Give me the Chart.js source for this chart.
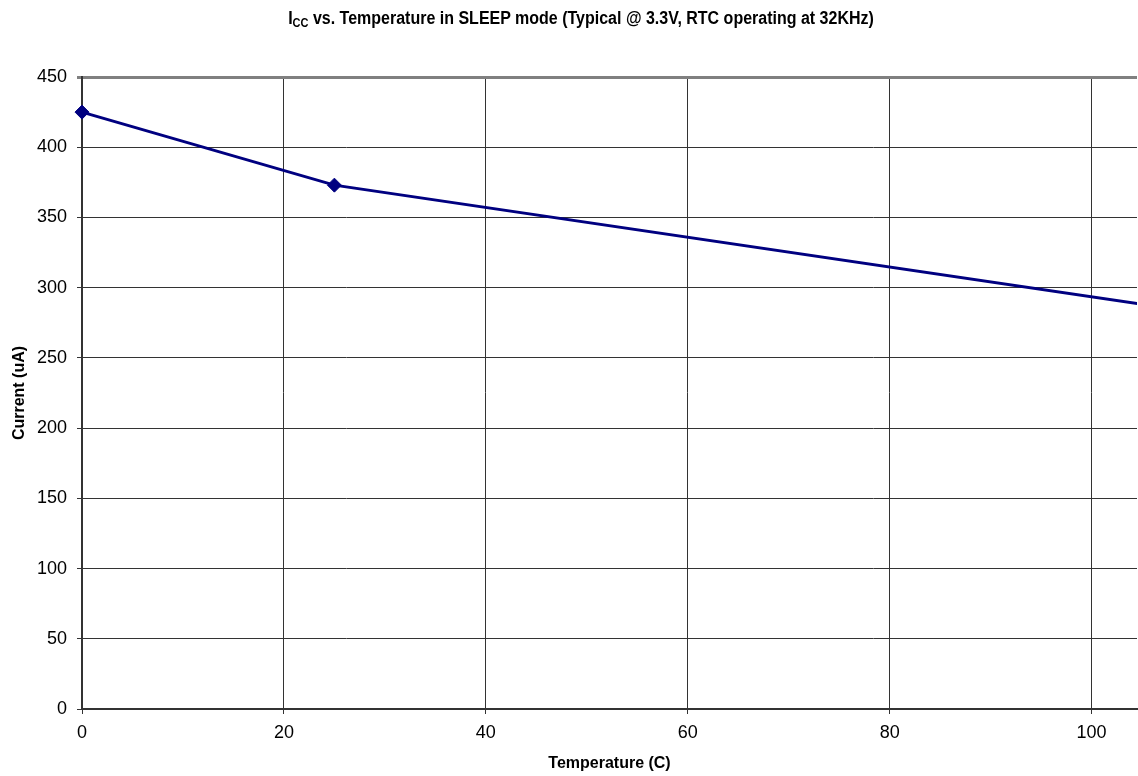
<!DOCTYPE html>
<html><head><meta charset="utf-8">
<script src="https://cdn.jsdelivr.net/npm/chart.js@4/dist/chart.umd.min.js"></script>
<style>
html,body{margin:0;padding:0;background:#fff;}
#wrap{position:relative;width:1138px;height:776px;overflow:hidden;}
#title{position:absolute;left:0;top:9px;width:1162px;text-align:center;font:bold 16px "Liberation Sans",Arial,sans-serif;color:#000;white-space:nowrap;}
#title span.t{display:inline-block;transform:scale(1.0,1.1);}
#title sub{font-size:11px;vertical-align:-3px;line-height:0;}
canvas{position:absolute;left:0;top:0;}
</style></head>
<body><div id="wrap"><canvas id="c" width="1145" height="776"></canvas><div id="title"><span class="t">I<sub>CC</sub> vs. Temperature in SLEEP mode (Typical @ 3.3V, RTC operating at 32KHz)</span></div></div>
<script>
const temperatures = [0, 25, 125];
const currents = [425, 373, 267];
const xTickValues = [0, 20, 40, 60, 80, 100];
const yTickValues = [0, 50, 100, 150, 200, 250, 300, 350, 400, 450];
const xAxisTitle = 'Temperature (C)';
const yAxisTitle = 'Current (uA)';

const points = temperatures.map((t, i) => ({x: t, y: currents[i]}));
const FONT = '"Liberation Sans", Arial, sans-serif';

new Chart(document.getElementById('c'), {
  type: 'line',
  data: {
    datasets: [{
      data: points,
      borderColor: '#000080',
      backgroundColor: '#000080',
      borderWidth: 3,
      pointStyle: 'rectRot',
      pointRadius: 7,
      pointBorderWidth: 1,
      pointBorderColor: '#000080',
      pointBackgroundColor: '#000080',
      tension: 0,
      fill: false,
      clip: {left: 12, top: 12, bottom: 12, right: 0}
    }]
  },
  options: {
    responsive: false,
    animation: false,
    devicePixelRatio: 1,
    layout: {padding: {top: 77, right: 0, bottom: 0, left: 0}},
    plugins: {legend: {display: false}, tooltip: {enabled: false}, title: {display: false}},
    scales: {
      x: {
        type: 'linear',
        min: 0,
        max: 104.5,
        afterBuildTicks: s => { s.ticks = xTickValues.map(v => ({value: v})); },
        afterFit: s => { s.height = 67; },
        grid: {color: '#333333', lineWidth: 1, tickLength: 5, drawTicks: true},
        border: {display: true, color: '#333333', width: 2},
        ticks: {color: '#000', font: {family: FONT, size: 18}, padding: 8, maxRotation: 0},
        title: {display: true, text: xAxisTitle, color: '#000', font: {family: FONT, size: 16, weight: 'bold'}, padding: {top: 0, bottom: 3}}
      },
      y: {
        type: 'linear',
        min: 0,
        max: 450,
        afterBuildTicks: s => { s.ticks = yTickValues.map(v => ({value: v})); },
        afterFit: s => { s.width = 82; },
        grid: {
          color: ctx => (ctx.tick && ctx.tick.value === 450) ? '#808080' : '#333333',
          lineWidth: ctx => (ctx.tick && ctx.tick.value === 450) ? 3 : 1,
          tickLength: 5, drawTicks: true
        },
        border: {display: true, color: '#333333', width: 2},
        ticks: {color: '#000', font: {family: FONT, size: 18}, padding: 10},
        title: {display: true, text: yAxisTitle, color: '#000', font: {family: FONT, size: 16, weight: 'bold'}, padding: {top: 10, bottom: 0}}
      }
    }
  }
});
</script>
</body></html>
